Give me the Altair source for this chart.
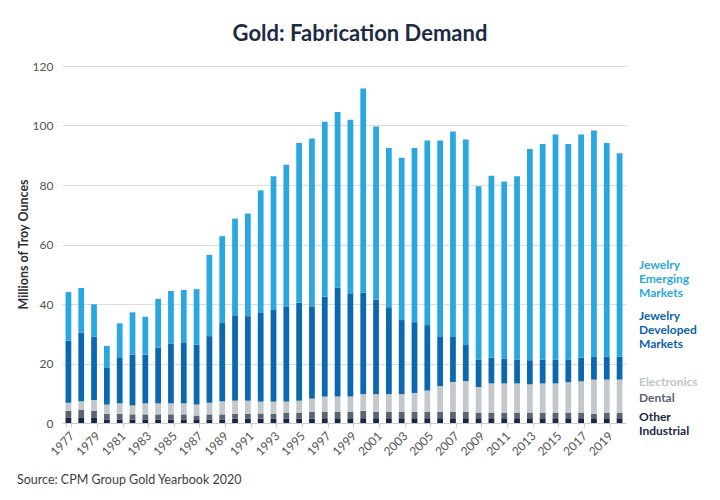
import altair as alt
import pandas as pd

years = list(range(1977, 2021))

# cumulative tops of each layer (millions of troy ounces)
total = [44.0, 45.4, 39.9, 25.9, 33.5, 37.2, 35.7, 41.7, 44.4, 44.7,
         45.0, 56.5, 62.8, 68.7, 70.4, 78.2, 82.9, 86.8, 94.1, 95.6,
         101.3, 104.5, 101.9, 112.4, 99.7, 92.4, 89.2, 92.4, 95.0, 95.0,
         98.0, 95.3, 79.6, 83.1, 81.2, 82.9, 92.1, 93.8, 97.0, 93.8,
         97.0, 98.3, 94.1, 90.7]
dev_top = [27.7, 30.4, 29.0, 18.7, 22.1, 23.0, 23.0, 25.3, 26.6, 26.9,
           26.3, 29.2, 33.6, 36.2, 35.9, 37.2, 38.0, 39.2, 40.4, 39.2,
           42.5, 45.5, 43.6, 43.8, 41.5, 38.9, 34.6, 33.9, 32.9, 28.9,
           28.9, 26.2, 21.3, 22.0, 21.6, 21.3, 21.1, 21.3, 21.3, 21.3,
           22.0, 22.3, 22.3, 22.3]
elec_top = [6.8, 7.3, 7.7, 6.2, 6.6, 5.9, 6.6, 6.6, 6.6, 6.6,
            6.2, 6.8, 7.3, 7.5, 7.5, 7.2, 7.2, 7.2, 7.5, 8.2,
            8.9, 8.9, 8.9, 9.7, 9.7, 9.7, 9.7, 10.1, 10.9, 12.4,
            13.8, 14.1, 12.1, 13.3, 13.3, 13.3, 13.0, 13.3, 13.3, 13.7,
            14.0, 14.6, 14.6, 14.6]
dental_top = [4.1, 4.5, 4.1, 3.1, 3.1, 2.9, 2.9, 2.9, 2.9, 2.9,
              2.5, 2.9, 2.9, 3.1, 3.1, 3.2, 3.1, 3.5, 3.5, 3.7,
              3.7, 3.8, 3.8, 4.1, 3.8, 3.8, 3.8, 3.8, 3.8, 3.8,
              3.8, 3.8, 3.5, 3.5, 3.5, 3.5, 3.5, 3.5, 3.5, 3.5,
              3.5, 3.1, 3.5, 3.5]
other_top = [1.7, 1.7, 1.7, 1.2, 1.2, 1.2, 1.2, 1.2, 1.2, 1.2,
             1.0, 1.2, 1.2, 1.4, 1.4, 1.5, 1.4, 1.5, 1.5, 1.5,
             1.6, 1.6, 1.6, 1.6, 1.6, 1.6, 1.6, 1.6, 1.6, 1.6,
             1.6, 1.6, 1.6, 1.6, 1.6, 1.6, 1.6, 1.6, 1.6, 1.6,
             1.6, 1.6, 1.6, 1.6]

series = ["Other Industrial", "Dental", "Electronics",
          "Jewelry Developed Markets", "Jewelry Emerging Markets"]
colors = ["#172846", "#5a6572", "#c3c8cc", "#0a68b0", "#2aa7df"]

rows = []
for i, yr in enumerate(years):
    bounds = [0.0, other_top[i], dental_top[i], elec_top[i], dev_top[i], total[i]]
    for k, s in enumerate(series):
        rows.append({"year": yr, "series": s, "lo": bounds[k], "hi": bounds[k + 1], "order": k})
df = pd.DataFrame(rows)

FONT = "Lato"

bars = alt.Chart(df).mark_bar().encode(
    x=alt.X("year:O",
            scale=alt.Scale(paddingInner=0.55, paddingOuter=0.275),
            axis=alt.Axis(title=None, values=[y for y in years if y % 2 == 1],
                          labelAngle=315, tickBand="extent", tickSize=4,
                          tickColor="#cccccc", domainColor="#cccccc",
                          labelColor="#555555", labelFontSize=12, labelPadding=3,
                          labelFont=FONT, grid=False)),
    y=alt.Y("lo:Q", scale=alt.Scale(domain=[0, 120], nice=False),
            axis=alt.Axis(title=None, values=[0, 20, 40, 60, 80, 100, 120],
                          grid=True, gridColor="#dddddd", domain=False,
                          ticks=False, tickSize=0, labelPadding=9,
                          labelColor="#555555", labelFontSize=12, labelFont=FONT)),
    y2="hi:Q",
    color=alt.Color("series:N", scale=alt.Scale(domain=series, range=colors), legend=None),
)

one = pd.DataFrame({"a": [0]})

def txt(text, x, y, **kw):
    return alt.Chart(one).mark_text(text=text, font=FONT, **kw).encode(
        x=alt.value(x), y=alt.value(y))

layers = [bars]
layers.append(txt("Gold: Fabrication Demand", 298, -32, fontSize=22, fontWeight="bold",
                  color="#1c2b45", align="center", baseline="middle"))
layers.append(txt("Millions of Troy Ounces", -38, 178.5, fontSize=12.5, fontWeight="bold",
                  color="#2a2f38", align="center", baseline="middle", angle=270))
layers.append(txt("Source: CPM Group Gold Yearbook 2020", -45, 414, fontSize=12.5,
                  color="#3c3f44", align="left", baseline="middle"))

legend_lines = [
    ("Jewelry", 199, "#2aa7df"), ("Emerging", 213, "#2aa7df"), ("Markets", 227, "#2aa7df"),
    ("Jewelry", 250, "#0b63a8"), ("Developed", 264, "#0b63a8"), ("Markets", 278, "#0b63a8"),
    ("Electronics", 316, "#bfc4c8"), ("Dental", 332, "#5b6470"),
    ("Other", 350.5, "#172846"), ("Industrial", 365, "#172846"),
]
for t, yy, c in legend_lines:
    layers.append(txt(t, 577, yy, fontSize=12, fontWeight="bold", color=c,
                      align="left", baseline="middle"))

chart = alt.layer(*layers).properties(
    width=564, height=357,
    autosize=alt.AutoSizeParams(type="none"),
    padding={"left": 54, "top": 58, "right": 86, "bottom": 69},
).configure(font=FONT).configure_view(stroke="transparent", strokeWidth=0)

chart.save("out.html", embed_options={"renderer": "svg", "actions": False})
